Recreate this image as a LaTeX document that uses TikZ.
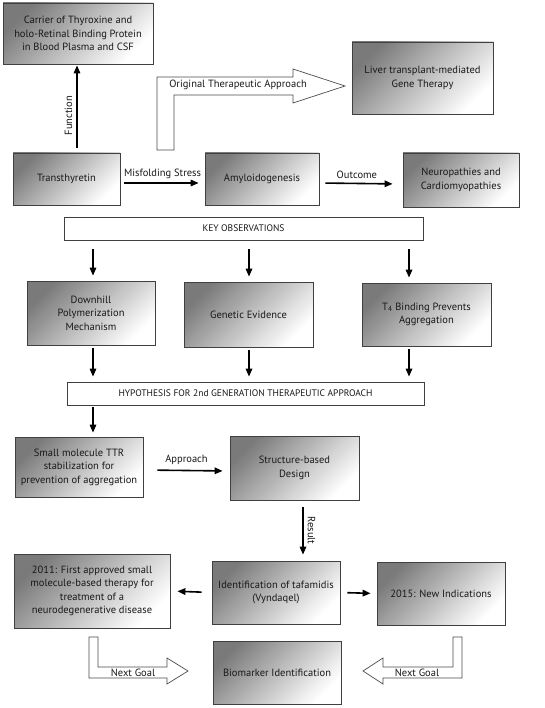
\documentclass[tikz,border=0pt]{standalone}
\usepackage{fontspec}
\setmainfont{PT Sans}
\usetikzlibrary{arrows.meta,calc}
\begin{document}
\begin{tikzpicture}[x=1pt,y=-1pt,
  box/.style={draw=black!75, line width=0.8pt, shading=axis, top color=black!52, bottom color=white, shading angle=45, align=center, font=\fontsize{10.5}{13.5}\selectfont, inner sep=2pt, text=black!90},
  wbox/.style={draw=black!75, line width=0.8pt, fill=white, font=\fontsize{9.5}{11}\selectfont, text=black!90},
  arr/.style={line width=1.6pt, -{Triangle[length=8pt,width=6.5pt]}},
  blk/.style={draw=black!70, line width=0.7pt, fill=white, line join=miter},
  lbl/.style={font=\fontsize{10.5}{12}\selectfont, inner sep=1pt, text=black!90}
]
\useasboundingbox (0,0) rectangle (545,708);
\fill[white] (0,0) rectangle (545,708);

% boxes
\node[box, minimum width=150pt, minimum height=61pt] (carrier) at (78,33.5) {Carrier of Thyroxine and\\holo-Retinal Binding Protein\\in Blood Plasma and CSF};
\node[box, minimum width=141pt, minimum height=72pt] (liver) at (422.5,78) {Liver transplant-mediated\\Gene Therapy};
\node[box, minimum width=107pt, minimum height=52pt] (tth) at (66.5,179) {Transthyretin};
\node[box, minimum width=114pt, minimum height=52pt] (amy) at (262,179) {Amyloidogenesis};
\node[box, minimum width=116pt, minimum height=54pt] (neuro) at (461,180) {Neuropathies and\\Cardiomyopathies};
\node[wbox, minimum width=359pt, minimum height=23pt] (keyobs) at (243.5,228.5) {KEY OBSERVATIONS};
\node[box, minimum width=128pt, minimum height=64pt] (downhill) at (91,313) {Downhill\\Polymerization\\Mechanism};
\node[box, minimum width=129pt, minimum height=65pt] (genetic) at (248.5,314.5) {Genetic Evidence};
\node[box, minimum width=129pt, minimum height=63pt] (t4) at (426.5,314.5) {T\textsubscript{4} Binding Prevents\\Aggregation};
\node[wbox, minimum width=357pt, minimum height=23pt] (hyp) at (245.5,393.5) {HYPOTHESIS FOR 2nd GENERATION THERAPEUTIC APPROACH};
\node[box, minimum width=128pt, minimum height=60pt] (small) at (79,467) {Small molecule TTR\\stabilization for\\prevention of aggregation};
\node[box, minimum width=129pt, minimum height=64pt] (struct) at (294.5,468) {Structure-based\\Design};
\node[box, minimum width=156pt, minimum height=74pt] (first) at (92,591) {2011: First approved small\\molecule-based therapy for\\treatment of a\\neurodegenerative disease};
\node[box, minimum width=128pt, minimum height=63pt] (ident) at (276,592.5) {Identification of tafamidis\\(Vyndaqel)};
\node[box, minimum width=128pt, minimum height=63pt] (new) at (441,593.5) {2015: New Indications};
\node[box, minimum width=128pt, minimum height=63pt] (bio) at (277,672.5) {Biomarker Identification};

% arrows
\draw[arr, shorten <=5pt, shorten >=1pt] (tth.north -| 77,0) -- (carrier.south -| 77,0) node[lbl, pos=0.42, rotate=90, above=3pt] {Function};
\draw[arr, shorten <=4pt, shorten >=6pt] ([yshift=-4pt]tth.east) -- ([yshift=-4pt]amy.west) node[lbl, midway, above=2pt] {Misfolding Stress};
\draw[arr, shorten <=6pt, shorten >=10pt] ([yshift=-4pt]amy.east) -- ([yshift=-4pt]neuro.west) node[lbl, pos=0.45, above=3pt] {Outcome};

\foreach \xx/\tgt in {93/downhill, 249/genetic, 409/t4}{
  \draw[arr, shorten <=9pt, shorten >=5pt] (keyobs.south -| \xx,0) -- (\tgt.north -| \xx,0);
  \draw[arr, shorten <=3pt, shorten >=5pt] (\tgt.south -| \xx,0) -- (hyp.north -| \xx,0);
}
\draw[arr, shorten <=2pt, shorten >=4pt] (hyp.south -| 93,0) -- (small.north -| 93,0);
\draw[arr, shorten <=14pt, shorten >=7pt] ([yshift=-3pt]small.east) -- ([yshift=-3pt]struct.west) node[lbl, midway, above=4pt] {Approach};
\draw[arr, shorten <=7pt, shorten >=6pt] (struct.south -| 303,0) -- (ident.north -| 303,0) node[lbl, midway, rotate=-90, above=3pt] {Result};
\draw[arr, shorten <=10pt, shorten >=7pt] (ident.west) -- (first.east);
\draw[arr, shorten <=7pt, shorten >=6pt] (ident.east) -- (new.west);

% block arrows
\draw[blk] (157,150) -- (157,77) -- (293,77) -- (293,69) -- (345,86) -- (293,103) -- (293,95) -- (174,95) -- (174,150) -- cycle;
\node[lbl] (ota) at (238,85) {Original Therapeutic Approach};

\draw[blk] (89,637) -- (89,678) -- (167,678) -- (167,684) -- (188,671) -- (167,658) -- (167,667) -- (98,667) -- (98,637) -- cycle;
\node[lbl] (ng1) at (133,673) {Next Goal};
\draw[blk] (462,637) -- (462,678) -- (383,678) -- (383,684) -- (363,671) -- (383,658) -- (383,667) -- (453,667) -- (453,637) -- cycle;
\node[lbl] (ng2) at (417,673) {Next Goal};
\end{tikzpicture}
\end{document}
